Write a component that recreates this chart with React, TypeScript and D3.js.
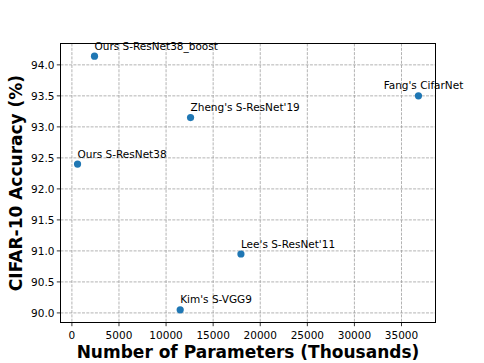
import React from "react";
import * as d3 from "d3";

const names = [
  "Ours S-ResNet38_boost",
  "Ours S-ResNet38",
  "Zheng's S-ResNet'19",
  "Fang's CifarNet",
  "Lee's S-ResNet'11",
  "Kim's S-VGG9",
];
const params = [2400, 600, 12600, 36800, 17950, 11500];
const accuracy = [94.14, 92.4, 93.15, 93.5, 90.95, 90.05];
const labelAnchor = ["start", "start", "start", "middle", "start", "start"];
const xTicks = [0, 5000, 10000, 15000, 20000, 25000, 30000, 35000];
const yTicks = [90.0, 90.5, 91.0, 91.5, 92.0, 92.5, 93.0, 93.5, 94.0];

const W = 484;
const H = 363;
const left = 60.5;
const right = 435.5;
const top = 43.5;
const bottom = 322.5;

export default function App() {
  const xmin = d3.min(params)!;
  const xmax = d3.max(params)!;
  const ymin = d3.min(accuracy)!;
  const ymax = d3.max(accuracy)!;
  const xm = (xmax - xmin) * 0.05;
  const ym = (ymax - ymin) * 0.05;
  const x = d3.scaleLinear().domain([xmin - xm, xmax + xm]).range([left, right]);
  const y = d3.scaleLinear().domain([ymin - ym, ymax + ym]).range([bottom, top]);
  const font = "'DejaVu Sans', sans-serif";

  return (
    <svg
      width={W}
      height={H}
      style={{ position: "absolute", left: 0, top: 0, background: "#fff" }}
      fontFamily={font}
    >
      <rect x={0} y={0} width={W} height={H} fill="#fff" />
      {/* grid */}
      {xTicks.map((t) => (
        <line
          key={"gx" + t}
          x1={x(t)}
          x2={x(t)}
          y1={top}
          y2={bottom}
          stroke="#a0a0a0"
          strokeWidth={0.8}
          strokeDasharray="3,1.3"
        />
      ))}
      {yTicks.map((t) => (
        <line
          key={"gy" + t}
          x1={left}
          x2={right}
          y1={y(t)}
          y2={y(t)}
          stroke="#a0a0a0"
          strokeWidth={0.8}
          strokeDasharray="3,1.3"
        />
      ))}
      {/* points */}
      {params.map((p, i) => (
        <circle key={"p" + i} cx={x(p)} cy={y(accuracy[i])} r={3.6} fill="#1f77b4" />
      ))}
      {/* labels */}
      {names.map((n, i) => (
        <text
          key={"l" + i}
          x={x(params[i]) + (labelAnchor[i] === "middle" ? 5 : 0)}
          y={y(accuracy[i]) - 6.5}
          fontSize={10.5}
          textAnchor={labelAnchor[i] as any}
          fill="#000"
        >
          {n}
        </text>
      ))}
      {/* frame */}
      <rect
        x={left}
        y={top}
        width={right - left}
        height={bottom - top}
        fill="none"
        stroke="#000"
        strokeWidth={1}
      />
      {/* x ticks */}
      {xTicks.map((t) => (
        <g key={"xt" + t}>
          <line x1={x(t)} x2={x(t)} y1={bottom} y2={bottom + 3.7} stroke="#000" strokeWidth={0.8} />
          <text x={x(t)} y={bottom + 16} fontSize={10.5} textAnchor="middle" fill="#000">
            {t}
          </text>
        </g>
      ))}
      {/* y ticks */}
      {yTicks.map((t) => (
        <g key={"yt" + t}>
          <line x1={left - 3.7} x2={left} y1={y(t)} y2={y(t)} stroke="#000" strokeWidth={0.8} />
          <text
            x={left - 6}
            y={y(t)}
            fontSize={10.5}
            textAnchor="end"
            dominantBaseline="central"
            fill="#000"
          >
            {t.toFixed(1)}
          </text>
        </g>
      ))}
      {/* axis labels */}
      <text
        x={(left + right) / 2}
        y={357.5}
        fontSize={17}
        fontWeight="bold"
        textAnchor="middle"
        fill="#000"
      >
        Number of Parameters (Thousands)
      </text>
      <text
        transform={`translate(21.5, ${(top + bottom) / 2}) rotate(-90)`}
        fontSize={17}
        fontWeight="bold"
        textAnchor="middle"
        fill="#000"
      >
        CIFAR-10 Accuracy (%)
      </text>
    </svg>
  );
}
